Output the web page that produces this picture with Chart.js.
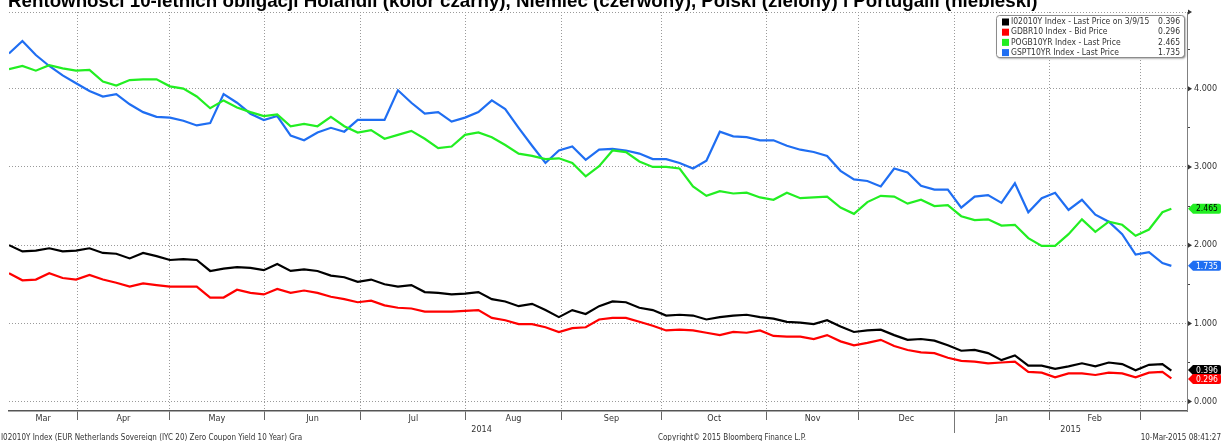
<!DOCTYPE html>
<html>
<head>
<meta charset="utf-8">
<script src="https://cdn.jsdelivr.net/npm/chart.js@4.4.1/dist/chart.umd.min.js"></script>
<style>
  html, body { margin: 0; padding: 0; background: #fff; }
</style>
</head>
<body>
<canvas id="chart_container" width="1223" height="441"></canvas>
<script>
// sample positions, in trading days from 10 Mar 2014
const tradingDay = [0,3,6,9,12,15,18,21,24,27,30,33,36,39,42,45,48,51,54,57,60,63,66,69,72,75,78,81,84,87,
    90,93,96,99,102,105,108,111,114,117,120,123,126,129,132,135,138,141,144,147,150,153,156,159,162,165,168,171,174,177,
    180,183,186,189,192,195,198,201,204,207,210,213,216,219,222,225,228,231,234,237,240,243,246,249,252,255,258,260]

// Holandia (czarny)
const nl = [2.00,1.92,1.93,1.96,1.92,1.93,1.96,1.90,1.89,1.83, 1.90,1.86,1.81,1.82,1.81,1.67,1.70,1.72,1.71,1.68,
    1.76,1.67,1.69,1.67,1.61,1.59,1.53,1.56,1.50,1.47, 1.49,1.40,1.39,1.37,1.38,1.40,1.31,1.28,1.22,1.25,
    1.17,1.08,1.17,1.12,1.22,1.28,1.27,1.20,1.17,1.10, 1.11,1.10,1.05,1.08,1.10,1.11,1.08,1.06,1.02,1.01,
    0.99,1.04,0.96,0.89,0.91,0.92,0.85,0.79,0.80,0.78, 0.72,0.65,0.66,0.62,0.53,0.59,0.46,0.46,0.42,0.45,
    0.49,0.45,0.50,0.48,0.40,0.47,0.48,0.396]

// Niemcy (czerwony)
const de = [1.64,1.55,1.56,1.64,1.58,1.56,1.62,1.56,1.52,1.47, 1.51,1.49,1.47,1.47,1.47,1.33,1.33,1.43,1.39,1.37,
    1.44,1.39,1.42,1.39,1.34,1.31,1.27,1.29,1.23,1.20, 1.19,1.15,1.15,1.15,1.16,1.17,1.07,1.04,0.99,0.99,
    0.95,0.89,0.94,0.95,1.05,1.07,1.07,1.02,0.97,0.91, 0.92,0.91,0.88,0.85,0.89,0.88,0.91,0.84,0.83,0.83,
    0.80,0.85,0.77,0.72,0.75,0.79,0.71,0.66,0.63,0.62, 0.56,0.52,0.51,0.49,0.50,0.51,0.38,0.37,0.31,0.36,
    0.36,0.34,0.37,0.36,0.31,0.37,0.38,0.296]

// Polska (zielony)
const pl = [4.25,4.29,4.23,4.30,4.26,4.23,4.24,4.09,4.04,4.11, 4.12,4.12,4.03,4.00,3.90,3.75,3.85,3.76,3.70,3.65,
    3.67,3.52,3.55,3.52,3.64,3.52,3.44,3.47,3.36,3.41, 3.46,3.36,3.24,3.26,3.41,3.44,3.38,3.28,3.17,3.14,
    3.10,3.11,3.05,2.88,3.01,3.21,3.19,3.07,3.00,3.00, 2.98,2.75,2.63,2.69,2.66,2.67,2.61,2.58,2.67,2.60,
    2.61,2.62,2.48,2.40,2.55,2.63,2.62,2.53,2.58,2.50, 2.51,2.37,2.32,2.33,2.25,2.26,2.09,1.99,1.99,2.14,
    2.33,2.17,2.30,2.26,2.12,2.20,2.42,2.465]

// Portugalia (niebieski)
const pt = [4.45,4.61,4.43,4.29,4.17,4.07,3.97,3.90,3.93,3.80, 3.70,3.64,3.63,3.59,3.53,3.56,3.93,3.82,3.68,3.60,
    3.65,3.40,3.34,3.44,3.50,3.45,3.60,3.60,3.60,3.98, 3.82,3.68,3.70,3.58,3.63,3.70,3.85,3.74,3.50,3.27,
    3.05,3.21,3.26,3.09,3.22,3.23,3.21,3.17,3.10,3.10, 3.05,2.98,3.08,3.45,3.39,3.38,3.34,3.34,3.27,3.22,
    3.19,3.14,2.95,2.84,2.82,2.75,2.98,2.93,2.76,2.71, 2.71,2.48,2.62,2.64,2.54,2.79,2.42,2.60,2.67,2.45,
    2.58,2.39,2.30,2.14,1.88,1.91,1.77,1.735]

const seriesNames  = ['I02010Y Index - Last Price on 3/9/15', 'GDBR10 Index - Bid Price', 'POGB10YR Index - Last Price', 'GSPT10YR Index - Last Price']
const seriesColors = ['#000000', '#ff0000', '#22ee22', '#1f6ef2']
const seriesData   = [nl, de, pl, pt]

// month boundaries (trading-day units) and names
const monthEdges = [15.3, 35.9, 57.1, 78.7, 102.2, 123.5, 146.0, 169.5, 190.0, 211.4, 232.7, 253.0]
const monthNames = ['Mar', 'Apr', 'May', 'Jun', 'Jul', 'Aug', 'Sep', 'Oct', 'Nov', 'Dec', 'Jan', 'Feb']
const yearNames  = ['2014', '2015']
const newYearEdge = 9

const yTicks = [0, 0.5, 1, 1.5, 2, 2.5, 3, 3.5, 4, 4.5]
const xMin = 0, xMax = 263.5
const yMin = -0.12, yMax = 4.98

const titleText  = 'Rentowności 10-letnich obligacji Holandii (kolor czarny), Niemiec (czerwony), Polski (zielony) i Portugalii (niebieski)'
const footLeft   = 'I02010Y Index (EUR Netherlands Sovereign (IYC 20) Zero Coupon Yield 10 Year) Gra'
const footCenter = 'Copyright\u00a9 2015 Bloomberg Finance L.P.'
const footRight  = '10-Mar-2015 08:41:27'

const narrow = '"DejaVu Sans Condensed", "Liberation Sans Narrow", "Liberation Sans", sans-serif'

let xTickInfo = []

function buildXTicks(scale){
    xTickInfo = []
    monthEdges.forEach(v => xTickInfo.push({value: v, kind: 'edge', label: ''}))
    monthNames.forEach((name, i) => {
        const a = i == 0 ? xMin : monthEdges[i - 1]
        xTickInfo.push({value: (a + monthEdges[i]) / 2, kind: 'month', label: name})
    })
    const split = monthEdges[newYearEdge]
    xTickInfo.push({value: (xMin + split) / 2, kind: 'year', label: ['', yearNames[0]]})
    xTickInfo.push({value: (split + xMax) / 2, kind: 'year', label: ['', yearNames[1]]})
    scale.ticks = xTickInfo.map(t => ({value: t.value}))
}

const isEdge = c => xTickInfo[c.index] && xTickInfo[c.index].kind == 'edge'

const decor = {
    id: 'decor',
    beforeDraw(chart){
        const ctx = chart.ctx
        ctx.save()
        ctx.fillStyle = '#fff'
        ctx.fillRect(0, 0, chart.width, chart.height)
        ctx.restore()
    },
    afterDraw(chart){
        const ctx = chart.ctx
        const xs = chart.scales.x
        const ys = chart.scales.y
        const area = chart.chartArea
        ctx.save()

        // title, cut off at the top like in the screenshot
        ctx.font = 'bold 16px "Liberation Sans", Arial, sans-serif'
        const w = ctx.measureText(titleText).width
        const size = 16 * 1030 / w
        ctx.font = 'bold ' + size.toFixed(2) + 'px "Liberation Sans", Arial, sans-serif'
        ctx.fillStyle = '#000'
        ctx.textBaseline = 'alphabetic'
        ctx.textAlign = 'left'
        ctx.fillText(titleText, 8, 6.5)

        // year separator below the axis
        const sx = Math.round(xs.getPixelForValue(monthEdges[newYearEdge])) + 0.5
        ctx.strokeStyle = '#777'
        ctx.lineWidth = 1
        ctx.beginPath()
        ctx.moveTo(sx, area.bottom)
        ctx.lineTo(sx, area.bottom + 22)
        ctx.stroke()

        // arrow heads on the major y ticks
        ctx.fillStyle = '#333'
        yTicks.filter(v => Number.isInteger(v)).concat([yMax]).forEach(v => {
            const py = ys.getPixelForValue(v)
            ctx.beginPath()
            ctx.moveTo(area.right + 1, py - 2.5)
            ctx.lineTo(area.right + 5, py)
            ctx.lineTo(area.right + 1, py + 2.5)
            ctx.closePath()
            ctx.fill()
        })

        // last value tags on the right axis
        const tags = seriesData.map((d, i) => ({
            y: ys.getPixelForValue(d[d.length - 1]),
            text: d[d.length - 1].toFixed(3),
            color: seriesColors[i],
            textColor: i == 2 ? '#000' : '#fff'
        })).sort((a, b) => a.y - b.y)
        for (let i = 1; i < tags.length; i++){
            if (tags[i].y - tags[i - 1].y < 9){
                const mid = (tags[i].y + tags[i - 1].y) / 2
                tags[i - 1].y = mid - 4.5
                tags[i].y = mid + 4.5
            }
        }
        ctx.font = '8.5px ' + narrow
        ctx.textBaseline = 'middle'
        tags.forEach(t => {
            const x0 = area.right + 1, x1 = chart.width - 2, h = 5
            ctx.fillStyle = t.color
            ctx.beginPath()
            ctx.moveTo(x0, t.y)
            ctx.lineTo(x0 + 5, t.y - h)
            ctx.lineTo(x1 - 2, t.y - h)
            ctx.quadraticCurveTo(x1, t.y - h, x1, t.y - h + 2)
            ctx.lineTo(x1, t.y + h - 2)
            ctx.quadraticCurveTo(x1, t.y + h, x1 - 2, t.y + h)
            ctx.lineTo(x0 + 5, t.y + h)
            ctx.closePath()
            ctx.fill()
            ctx.fillStyle = t.textColor
            ctx.fillText(t.text, x0 + 8, t.y + 0.5)
        })

        // legend box
        const lx = 996, ly = 15, lw = 188, lh = 42
        ctx.save()
        ctx.shadowColor = 'rgba(0,0,0,0.45)'
        ctx.shadowBlur = 2
        ctx.shadowOffsetX = 1.5
        ctx.shadowOffsetY = 1.5
        ctx.fillStyle = '#fff'
        ctx.beginPath()
        ctx.roundRect(lx, ly, lw, lh, 3)
        ctx.fill()
        ctx.restore()
        ctx.strokeStyle = '#8c8c8c'
        ctx.lineWidth = 1
        ctx.beginPath()
        ctx.roundRect(lx + 0.5, ly + 0.5, lw, lh, 3)
        ctx.stroke()
        ctx.font = '8.5px ' + narrow
        ctx.textBaseline = 'middle'
        seriesNames.forEach((name, i) => {
            const ry = ly + 7 + i * 10.2
            ctx.fillStyle = seriesColors[i]
            ctx.fillRect(lx + 6, ry - 3.5, 7, 7)
            ctx.fillStyle = '#333'
            ctx.textAlign = 'left'
            ctx.fillText(name, lx + 15, ry)
            ctx.textAlign = 'right'
            const d = seriesData[i]
            ctx.fillText(d[d.length - 1].toFixed(3), lx + lw - 4, ry)
        })

        // footer
        ctx.font = '8px ' + narrow
        ctx.fillStyle = '#333'
        ctx.textBaseline = 'alphabetic'
        ctx.textAlign = 'left'
        ctx.fillText(footLeft, 1, 440)
        ctx.textAlign = 'center'
        ctx.fillText(footCenter, 732, 440)
        ctx.textAlign = 'right'
        ctx.fillText(footRight, chart.width - 2, 440)

        ctx.restore()
    }
}

const chart = new Chart(document.getElementById('chart_container'), {
    type: 'line',
    data: {
        datasets: seriesData.map((d, i) => ({
            label: seriesNames[i],
            data: d.map((v, j) => ({x: tradingDay[j], y: v})),
            borderColor: seriesColors[i],
            borderWidth: 2.2,
            pointRadius: 0,
            tension: 0,
            fill: false
        }))
    },
    options: {
        responsive: false,
        animation: false,
        layout: {
            padding: {left: 9, top: 12, right: 0, bottom: 0}
        },
        plugins: {
            legend: {display: false},
            title: {display: false},
            tooltip: {enabled: false}
        },
        scales: {
            x: {
                type: 'linear',
                min: xMin,
                max: xMax,
                bounds: 'data',
                afterBuildTicks: buildXTicks,
                afterFit: s => { s.height = 30 },
                grid: {
                    color: c => isEdge(c) ? '#9a9a9a' : 'rgba(0,0,0,0)',
                    tickColor: c => isEdge(c) ? '#666' : 'rgba(0,0,0,0)',
                    tickLength: 9,
                    lineWidth: 1
                },
                border: {color: '#555', width: 1.5, dash: [1, 2]},
                ticks: {
                    autoSkip: false,
                    maxRotation: 0,
                    padding: -7,
                    color: '#333',
                    font: {size: 9, family: narrow},
                    callback: (v, i) => xTickInfo[i] ? xTickInfo[i].label : ''
                }
            },
            y: {
                type: 'linear',
                position: 'right',
                min: yMin,
                max: yMax,
                bounds: 'data',
                afterBuildTicks: s => { s.ticks = yTicks.concat([yMax]).map(v => ({value: v})) },
                afterFit: s => { s.width = 36 },
                grid: {
                    color: c => (Number.isInteger(c.tick.value) || c.tick.value == yMax) ? '#9a9a9a' : 'rgba(0,0,0,0)',
                    tickColor: '#444',
                    tickLength: 3,
                    lineWidth: 1
                },
                border: {color: '#808080', width: 1, dash: [1, 2]},
                ticks: {
                    padding: 4,
                    color: '#333',
                    font: {size: 9, family: narrow},
                    callback: v => Number.isInteger(v) ? v.toFixed(3) : ''
                }
            }
        }
    },
    plugins: [decor]
})
</script>
</body>
</html>
